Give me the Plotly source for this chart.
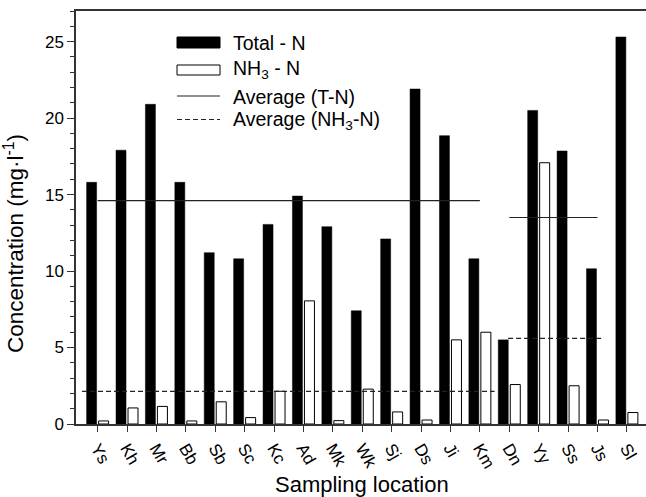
import plotly.graph_objects as go

locations = ["Ys", "Kh", "Mr", "Bb", "Sb", "Sc", "Kc", "Ad", "Mk", "Wk",
             "Sj", "Ds", "Ji", "Km", "Dn", "Yy", "Ss", "Js", "Sl"]
total_n = [15.8, 17.9, 20.9, 15.8, 11.2, 10.8, 13.05, 14.9, 12.9, 7.4,
           12.1, 21.9, 18.85, 10.8, 5.5, 20.5, 17.85, 10.15, 25.3]
nh3_n = [0.2, 1.05, 1.15, 0.2, 1.45, 0.42, 2.14, 8.05, 0.22, 2.28,
         0.79, 0.26, 5.5, 6.0, 2.58, 17.08, 2.5, 0.26, 0.75]
# averages (value, start position, end position along category index)
avg_tn = [14.6, 13.5]
avg_tn_x = [[0, 13], [14, 17]]
avg_nh3 = [2.13, 5.6]
avg_nh3_x = [[-0.53, 13.5], [13.96, 17.15]]

W, H = 646, 497
ML, MR, MT, MB = 76, 0, 11, 73
PW, PH = W - ML - MR, H - MT - MB

def px(x):
    return (x - ML) / PW

def py(y):
    return (H - MB - y) / PH

FONT = "Liberation Sans, Arial, sans-serif"
idx = list(range(len(locations)))

fig = go.Figure()
fig.add_trace(go.Bar(x=idx, y=total_n, width=0.34, offset=-0.374,
                     marker=dict(color="black", line=dict(color="black", width=0.5)),
                     name="Total - N", showlegend=False))
fig.add_trace(go.Bar(x=idx, y=nh3_n, width=0.34, offset=0.034,
                     marker=dict(color="white", line=dict(color="black", width=1)),
                     name="NH3 - N", showlegend=False))
for v, (a, b) in zip(avg_tn, avg_tn_x):
    fig.add_trace(go.Scatter(x=[a, b], y=[v, v], mode="lines",
                             line=dict(color="#222", width=1.2), showlegend=False))
for v, (a, b) in zip(avg_nh3, avg_nh3_x):
    fig.add_trace(go.Scatter(x=[a, b], y=[v, v], mode="lines",
                             line=dict(color="#222", width=1.2, dash="5px,3px"), showlegend=False))

# manual legend
shapes = [
    dict(type="rect", xref="paper", yref="paper", x0=px(177), x1=px(220), y0=py(48), y1=py(37),
         fillcolor="black", line=dict(color="black", width=1)),
    dict(type="rect", xref="paper", yref="paper", x0=px(177), x1=px(220), y0=py(75), y1=py(65),
         fillcolor="white", line=dict(color="black", width=1)),
    dict(type="line", xref="paper", yref="paper", x0=px(177), x1=px(220), y0=py(96), y1=py(96),
         line=dict(color="#222", width=1.2)),
    dict(type="line", xref="paper", yref="paper", x0=px(177), x1=px(220), y0=py(119.5), y1=py(119.5),
         line=dict(color="#222", width=1.2, dash="5px,3px")),
]
legend_texts = ["Total - N", "NH<sub>3</sub> - N", "Average (T-N)", "Average (NH<sub>3</sub>-N)"]
legend_y = [42.5, 69, 96.5, 120.5]
annotations = []
for t, yy in zip(legend_texts, legend_y):
    annotations.append(dict(text=t, xref="paper", yref="paper", x=px(231), y=py(yy),
                            xanchor="left", yanchor="middle", showarrow=False,
                            font=dict(family=FONT, size=19.5, color="black")))
annotations.append(dict(text="Sampling location", xref="paper", yref="paper",
                        x=px(362), y=py(484), xanchor="center", yanchor="middle",
                        showarrow=False, font=dict(family=FONT, size=22, color="black")))
annotations.append(dict(text="Concentration (mg·l<sup>-1</sup>)", xref="paper", yref="paper",
                        x=px(14), y=py(244), xanchor="center", yanchor="middle",
                        textangle=-90, showarrow=False,
                        font=dict(family=FONT, size=22.5, color="black")))

fig.update_layout(
    width=W, height=H,
    margin=dict(l=ML, r=MR, t=MT, b=MB, autoexpand=False),
    paper_bgcolor="white", plot_bgcolor="white",
    barmode="overlay",
    showlegend=False,
    shapes=shapes,
    annotations=annotations,
    font=dict(family=FONT, color="black"),
    xaxis=dict(range=[-0.735, 18.65], tickmode="array", tickvals=idx, ticktext=locations,
               tickangle=60, ticks="outside", ticklen=6, tickcolor="#333",
               showline=True, linecolor="#333", linewidth=1.5, mirror=True,
               showgrid=False, zeroline=False, tickfont=dict(family=FONT, size=17)),
    yaxis=dict(range=[0, 27], tickmode="array", tickvals=[0, 5, 10, 15, 20, 25],
               ticks="outside", ticklen=7, tickcolor="#333",
               minor=dict(tickmode="linear", tick0=0, dtick=1, ticks="outside", ticklen=4, tickcolor="#333"),
               showline=True, linecolor="#333", linewidth=1.5, mirror=False,
               showgrid=False, zeroline=False, tickfont=dict(family=FONT, size=17)),
)

fig.write_html("out.html", config={"displayModeBar": False},
               post_script="document.body.style.margin='0';document.body.style.overflow='hidden';")
